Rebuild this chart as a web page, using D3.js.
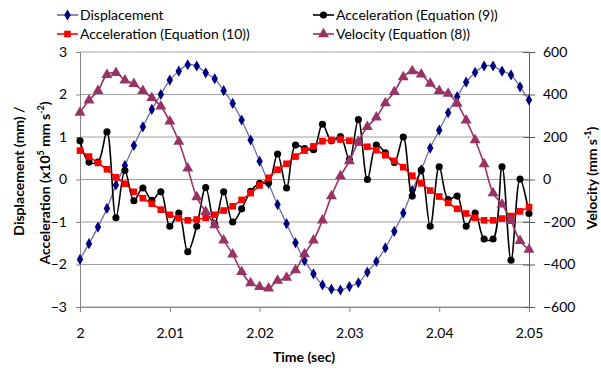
<!DOCTYPE html>
<html>
<head>
<meta charset="utf-8">
<script src="https://cdn.jsdelivr.net/npm/d3@7"></script>
<style>
  body { margin: 0; background: #fff; }
  text { font-family: Lato, "Liberation Sans", sans-serif; fill: #000; }
</style>
</head>
<body>
<div id="chart"></div>
<script>
const time = [2.000, 2.001, 2.002, 2.003, 2.004, 2.005, 2.006, 2.007, 2.008, 2.009,
    2.010, 2.011, 2.012, 2.013, 2.014, 2.015, 2.016, 2.017, 2.018, 2.019,
    2.020, 2.021, 2.022, 2.023, 2.024, 2.025, 2.026, 2.027, 2.028, 2.029,
    2.030, 2.031, 2.032, 2.033, 2.034, 2.035, 2.036, 2.037, 2.038, 2.039,
    2.040, 2.041, 2.042, 2.043, 2.044, 2.045, 2.046, 2.047, 2.048, 2.049, 2.050];

const displacement = [-1.88, -1.51, -1.12, -0.68, -0.13, 0.33, 0.80, 1.24, 1.65, 2.00,
    2.34, 2.55, 2.70, 2.67, 2.51, 2.37, 2.09, 1.79, 1.40, 0.93,
    0.43, -0.09, -0.59, -1.04, -1.49, -1.91, -2.22, -2.48, -2.58, -2.60,
    -2.52, -2.43, -2.18, -1.93, -1.61, -1.22, -0.79, -0.26, 0.23, 0.74,
    1.16, 1.57, 1.95, 2.29, 2.52, 2.67, 2.67, 2.55, 2.46, 2.18, 1.87];

const accel9 = [0.91, 0.41, 0.41, 1.12, -0.90, 0.21, -0.50, -0.20, -0.49, -0.29,
    -1.10, -0.79, -1.70, -1.10, -0.19, -1.05, -0.29, -1.00, -0.69, -0.28,
    -0.09, -0.08, 0.60, -0.20, 0.81, 0.73, 0.70, 1.30, 0.91, 1.01,
    0.47, 1.41, 0.00, 0.81, 0.63, 0.40, 1.00, -0.39, 0.22, -1.10,
    0.30, -0.47, -0.39, -1.10, -0.79, -1.40, -1.40, 0.30, -1.90, 0.01, -0.80];

const accel10 = [0.68, 0.54, 0.39, 0.24, 0.05, -0.10, -0.29, -0.44, -0.57, -0.71,
    -0.83, -0.91, -0.96, -0.94, -0.90, -0.83, -0.73, -0.63, -0.48, -0.32,
    -0.14, 0.04, 0.23, 0.37, 0.54, 0.68, 0.78, 0.90, 0.93, 0.94,
    0.91, 0.87, 0.77, 0.69, 0.57, 0.44, 0.29, 0.09, -0.09, -0.26,
    -0.40, -0.55, -0.69, -0.80, -0.90, -0.96, -0.96, -0.92, -0.86, -0.75, -0.65];

const velocity = [315, 373, 417, 493, 502, 467, 450, 417, 384, 344,
    274, 179, 52, -83, -152, -215, -286, -352, -434, -488,
    -505, -512, -476, -462, -426, -351, -286, -192, -78, 16,
    87, 179, 248, 292, 360, 412, 482, 510, 495, 451,
    417, 404, 357, 279, 186, 73, -64, -117, -195, -289, -330];

const xTicks = [2, 2.01, 2.02, 2.03, 2.04, 2.05];
const leftTicks = [-3, -2, -1, 0, 1, 2, 3];
const rightTicks = [-600, -400, -200, 0, 200, 400, 600];

const width = 601, height = 376;
const margin = { top: 52, right: 72, bottom: 69, left: 80 };

const svg = d3.select("#chart").append("svg")
    .attr("width", width)
    .attr("height", height);

const x = d3.scaleLinear().domain([2, 2.05]).range([margin.left, width - margin.right]);
const yL = d3.scaleLinear().domain([-3, 3]).range([height - margin.bottom, margin.top]);
const yR = d3.scaleLinear().domain([-600, 600]).range([height - margin.bottom, margin.top]);

// gridlines
svg.append("g")
    .selectAll("line")
    .data(leftTicks)
    .join("line")
    .attr("x1", margin.left)
    .attr("x2", width - margin.right)
    .attr("y1", d => yL(d))
    .attr("y2", d => yL(d))
    .attr("stroke", "#a0a0a0")
    .attr("stroke-width", 1);

// axes
const xAxis = svg.append("g")
    .attr("transform", `translate(0,${height - margin.bottom})`)
    .call(d3.axisBottom(x).tickValues(xTicks).tickFormat(d3.format("")).tickSize(5).tickPadding(21));

const leftAxis = svg.append("g")
    .attr("transform", `translate(${margin.left},0)`)
    .call(d3.axisLeft(yL).tickValues(leftTicks).tickFormat(d3.format("d")).tickSize(4).tickPadding(9));

const rightAxis = svg.append("g")
    .attr("transform", `translate(${width - margin.right},0)`)
    .call(d3.axisRight(yR).tickValues(rightTicks).tickSize(5).tickPadding(9));

rightAxis.selectAll(".tick line").attr("x1", -6).attr("x2", 6);

[xAxis, leftAxis, rightAxis].forEach(a => {
    a.selectAll("path").attr("stroke", "#868686");
    a.selectAll(".tick line").attr("stroke", "#868686");
    a.selectAll("text").style("font-size", "14px").attr("fill", "#000");
});
rightAxis.select("path").attr("stroke", "#5a5a5a");
rightAxis.selectAll(".tick line").attr("stroke", "#5a5a5a");
xAxis.selectAll("text").attr("dy", "0.35em");

// series
const series = [
    { name: "Displacement", values: displacement, y: yL, line: "#6e6ea6", fill: "#000080", marker: "diamond", size: 36 },
    { name: "Acceleration (Equation (9))", values: accel9, y: yL, line: "#000", fill: "#000", marker: "circle", size: 40 },
    { name: "Acceleration (Equation (10))", values: accel10, y: yL, line: "#ff0000", fill: "#ff0000", marker: "square", size: 44 },
    { name: "Velocity (Equation (8))", values: velocity, y: yR, line: "#993366", fill: "#993366", marker: "triangle", size: 52 }
];

const symbols = {
    diamond: d3.symbolDiamond,
    circle: d3.symbolCircle,
    square: d3.symbolSquare,
    triangle: d3.symbolTriangle
};

series.forEach(s => {
    const pts = time.map((t, i) => [x(t), s.y(s.values[i])]);
    const g = svg.append("g");
    g.append("path")
        .attr("d", d3.line().curve(d3.curveCatmullRom.alpha(0.5))(pts))
        .attr("fill", "none")
        .attr("stroke", s.line)
        .attr("stroke-width", s.name === "Displacement" ? 1.3 : 1.6);
    g.selectAll("path.pt")
        .data(pts)
        .join("path")
        .attr("class", "pt")
        .attr("transform", d => `translate(${d[0]},${d[1]})`)
        .attr("d", d3.symbol().type(symbols[s.marker]).size(s.size))
        .attr("fill", s.fill);
});

// legend
const legendPos = [[57, 15], [313, 15], [57, 34], [313, 34]];
series.forEach((s, i) => {
    const [lx, ly] = legendPos[i];
    const g = svg.append("g").attr("transform", `translate(${lx},${ly})`);
    g.append("line")
        .attr("x1", 0).attr("x2", 21)
        .attr("stroke", s.line).attr("stroke-width", 1.6);
    g.append("path")
        .attr("transform", "translate(10.5,0)")
        .attr("d", d3.symbol().type(symbols[s.marker]).size(s.size))
        .attr("fill", s.fill);
    g.append("text")
        .attr("x", 23).attr("dy", "0.35em")
        .style("font-size", "14px")
        .text(s.name);
});

// axis titles
svg.append("text")
    .attr("x", 304).attr("y", 362)
    .attr("text-anchor", "middle")
    .style("font-size", "14px").style("font-weight", "bold")
    .text("Time (sec)");

svg.append("text")
    .attr("transform", "translate(24,171) rotate(-90)")
    .attr("text-anchor", "middle")
    .style("font-size", "14px").style("font-weight", "bold")
    .text("Displacement (mm) /");

const lt2 = svg.append("text")
    .attr("transform", "translate(50,183) rotate(-90)")
    .attr("text-anchor", "middle")
    .style("font-size", "14px").style("font-weight", "bold");
lt2.append("tspan").text("Acceleration (x10");
lt2.append("tspan").attr("dy", -6).style("font-size", "9px").text("5");
lt2.append("tspan").attr("dy", 6).text(" mm s");
lt2.append("tspan").attr("dy", -6).style("font-size", "9px").text("-2");
lt2.append("tspan").attr("dy", 6).text(")");

const rt = svg.append("text")
    .attr("transform", "translate(597,178) rotate(-90)")
    .attr("text-anchor", "middle")
    .style("font-size", "14px").style("font-weight", "bold");
rt.append("tspan").text("Velocity (mm s");
rt.append("tspan").attr("dy", -6).style("font-size", "9px").text("-1");
rt.append("tspan").attr("dy", 6).text(")");
</script>
</body>
</html>
